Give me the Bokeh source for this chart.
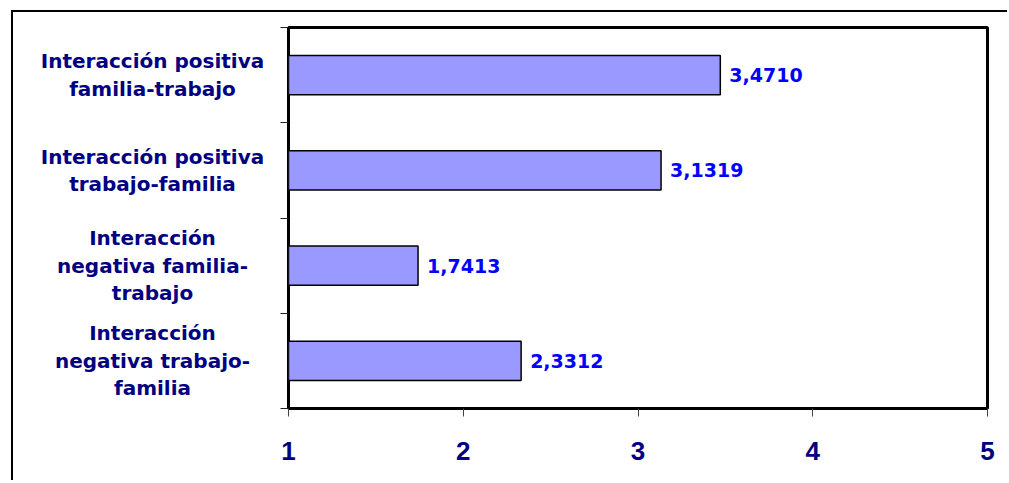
from bokeh.plotting import figure
from bokeh.layouts import row
from bokeh.models import FixedTicker, ColumnDataSource, Range1d
from bokeh.core.properties import value
from bokeh.embed import file_html
from bokeh.resources import INLINE

# ---- data (top to bottom) ----
categories = [
    "Interacción positiva\nfamilia-trabajo",
    "Interacción positiva\ntrabajo-familia",
    "Interacción\nnegativa familia-\ntrabajo",
    "Interacción\nnegativa trabajo-\nfamilia",
]
values = [3.4710, 3.1319, 1.7413, 2.3312]
value_labels = ["3,4710", "3,1319", "1,7413", "2,3312"]
x_ticks = [1, 2, 3, 4, 5]

n = len(categories)
ys = [n - i - 0.5 for i in range(n)]
yr = Range1d(0, n)

H = 468
TOP, BOTTOM = 15, 72

# ---- category label panel ----
lp = figure(width=250, height=H, x_range=Range1d(0, 1), y_range=yr,
            output_backend="svg", toolbar_location=None,
            min_border_left=0, min_border_right=0,
            min_border_top=TOP, min_border_bottom=BOTTOM)
lp.axis.visible = False
lp.grid.visible = False
lp.outline_line_color = None
lp.text(x=[0.556] * n, y=ys, text=categories,
        text_align="center", text_baseline="middle",
        text_color="#000080", text_font=value("DejaVu Sans"),
        text_font_style="bold", text_font_size="20px", text_line_height=1.15)

# ---- main bar chart ----
p = figure(
    width=744, height=H,
    x_range=Range1d(1, 5), y_range=yr,
    output_backend="svg", toolbar_location=None,
    min_border_left=25, min_border_right=20,
    min_border_top=TOP, min_border_bottom=BOTTOM,
)
p.xgrid.visible = False
p.ygrid.visible = False
p.outline_line_color = "black"
p.outline_line_width = 3
p.background_fill_color = "white"
p.border_fill_color = "white"

src = ColumnDataSource(dict(y=ys, v=values, lab=value_labels))
p.hbar(y="y", left=1, right="v", height=0.41, source=src,
       fill_color="#9999FF", line_color="black", line_width=1.5)
p.text(x="v", y="y", text="lab", source=src, x_offset=9,
       text_baseline="middle", text_align="left",
       text_color="#0000FF", text_font=value("DejaVu Sans"),
       text_font_style="bold", text_font_size="19px")

xa = p.xaxis[0]
xa.ticker = FixedTicker(ticks=x_ticks)
xa.axis_line_color = None
xa.major_tick_in = 0
xa.major_tick_out = 8
xa.major_tick_line_color = "#444444"
xa.minor_tick_line_color = None
xa.major_label_standoff = 25
xa.major_label_text_font = "Liberation Sans"
xa.major_label_text_font_style = "bold"
xa.major_label_text_font_size = "26px"
xa.major_label_text_color = "#000080"

ya = p.yaxis[0]
ya.ticker = FixedTicker(ticks=list(range(n + 1)))
ya.axis_line_color = None
ya.major_tick_in = 0
ya.major_tick_out = 8
ya.major_tick_line_color = "#222222"
ya.minor_tick_line_color = None
ya.major_label_text_font_size = "0px"
ya.major_label_text_color = None

layout = row(lp, p, spacing=0)
layout.styles = {"border-left": "2px solid black", "border-top": "2px solid black",
                 "margin-left": "11px", "margin-top": "10px"}

open("out.html", "w").write(file_html(layout, INLINE))
